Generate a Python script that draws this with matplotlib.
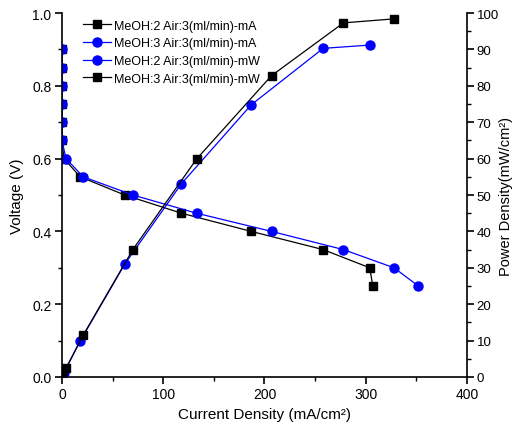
import matplotlib
matplotlib.use('Agg')
import matplotlib.pyplot as plt
from matplotlib.ticker import MultipleLocator

plt.rcParams['font.family'] = ['Liberation Sans', 'DejaVu Sans']

# voltage curves (left axis)
i_v_2 = [0, 0, 0, 0, 0, 0, 2, 18, 62, 118, 187, 258, 304, 307]
v_2 = [0.90, 0.85, 0.80, 0.75, 0.70, 0.65, 0.60, 0.55, 0.50, 0.45, 0.40, 0.35, 0.30, 0.25]
i_v_3 = [0, 0, 0, 0, 0, 0, 4, 21, 70, 133, 207, 278, 328, 352]
v_3 = [0.90, 0.85, 0.80, 0.75, 0.70, 0.65, 0.60, 0.55, 0.50, 0.45, 0.40, 0.35, 0.30, 0.25]

# power density curves (right axis)
i_p_2 = [0, 0, 0, 0, 0, 0, 2, 18, 62, 118, 187, 258, 304]
p_2 = [0, 0, 0, 0, 0, 0, 1.2, 9.9, 31.0, 53.1, 74.8, 90.3, 91.2]
i_p_3 = [0, 0, 0, 0, 0, 0, 4, 21, 70, 133, 207, 278, 328]
p_3 = [0, 0, 0, 0, 0, 0, 2.4, 11.5, 35.0, 59.9, 82.8, 97.3, 98.4]

labels = ['MeOH:2 Air:3(ml/min)-mA', 'MeOH:3 Air:3(ml/min)-mA',
          'MeOH:2 Air:3(ml/min)-mW', 'MeOH:3 Air:3(ml/min)-mW']

fig = plt.figure(figsize=(5.12, 4.39), dpi=100)
ax = fig.add_axes([0.121, 0.139, 0.791, 0.829])
ax2 = ax.twinx()

h1, = ax.plot(i_v_2, v_2, color='black', marker='s', ms=6, lw=0.9, label=labels[0])
h2, = ax.plot(i_v_3, v_3, color='#0000FF', marker='o', ms=6.5, lw=0.9, label=labels[1])
h3, = ax2.plot(i_p_2, p_2, color='#0000FF', marker='o', ms=6.5, lw=0.9, label=labels[2])
h4, = ax2.plot(i_p_3, p_3, color='black', marker='s', ms=6, lw=0.9, label=labels[3])

ax.set_xlim(0, 400)
ax.set_ylim(0, 1.0)
ax2.set_ylim(0, 100)
ax.xaxis.set_major_locator(MultipleLocator(100))
ax.xaxis.set_minor_locator(MultipleLocator(50))
ax.yaxis.set_major_locator(MultipleLocator(0.2))
ax.yaxis.set_minor_locator(MultipleLocator(0.1))
ax2.yaxis.set_major_locator(MultipleLocator(10))
ax2.yaxis.set_minor_locator(MultipleLocator(5))

for a in (ax, ax2):
    a.spines['top'].set_visible(False)
    for s in a.spines.values():
        s.set_linewidth(1.2)
    a.tick_params(which='major', direction='out', length=5, width=1.2, labelsize=10, pad=2.5)
    a.tick_params(which='minor', direction='out', length=3, width=1.0)
ax.spines['right'].set_visible(False)
ax2.spines['left'].set_visible(False)
ax2.spines['bottom'].set_visible(False)
ax2.tick_params(axis='y', labelsize=9.5, pad=2)

ax.set_yticklabels(['%.1f' % t for t in ax.get_yticks()])
ax.set_xlabel('Current Density (mA/cm²)', fontsize=11, labelpad=4)
ax.set_ylabel('Voltage (V)', fontsize=11, labelpad=6)
ax2.set_ylabel('Power Density(mW/cm²)', fontsize=10.5, labelpad=0)

ax2.legend(handles=[h1, h2, h3, h4], loc='upper left', bbox_to_anchor=(0.04, 0.995),
           frameon=False, fontsize=9, handlelength=2.2, handletextpad=0.3,
           labelspacing=0.45, borderaxespad=0)

fig.savefig('out.png', dpi=100)
